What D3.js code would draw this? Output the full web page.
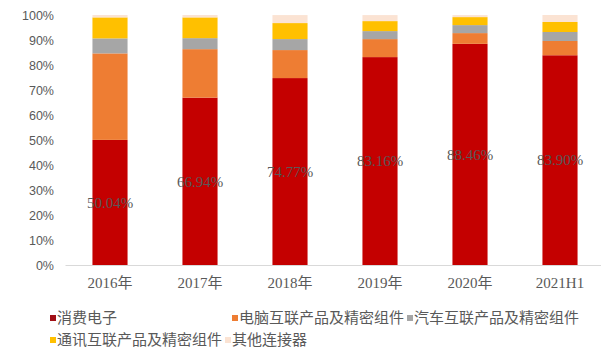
<!DOCTYPE html>
<html>
<head>
<meta charset="utf-8">
<script src="https://cdn.jsdelivr.net/npm/d3@7"></script>
<style>
  html, body { margin: 0; padding: 0; background: #fff; }
  svg { display: block; }
</style>
</head>
<body>
<svg id="chart" width="601" height="354"></svg>
<script>
// Revenue share by downstream application (%)
const categories = ["2016年", "2017年", "2018年", "2019年", "2020年", "2021H1"];
const consumer   = [50.04, 66.94, 74.77, 83.16, 88.46, 83.90];
const computer   = [34.6, 19.4, 11.2, 7.2, 4.3, 5.7];
const automotive = [6.0, 4.4, 4.4, 3.2, 3.2, 3.6];
const telecom    = [8.4, 8.3, 6.4, 4.0, 3.2, 4.0];
const other      = [0.96, 0.96, 3.2, 2.4, 0.8, 2.8];

const seriesNames = ["消费电子", "电脑互联产品及精密组件", "汽车互联产品及精密组件", "通讯互联产品及精密组件", "其他连接器"];
const seriesValues = [consumer, computer, automotive, telecom, other];
const colors = ["#C40000", "#EE7D33", "#A6A6A6", "#FFC000", "#FBE3D3"];
const yTicks = [0, 10, 20, 30, 40, 50, 60, 70, 80, 90, 100];

const rows = categories.map((c, i) => {
  const r = { category: c };
  seriesNames.forEach((s, k) => { r[s] = seriesValues[k][i]; });
  return r;
});

const svg = d3.select("#chart");

const x = d3.scaleBand()
  .domain(categories)
  .range([65, 605])
  .paddingInner(0.61)
  .paddingOuter(0.305);

const y = d3.scaleLinear().domain([0, 100]).range([265, 15]);

const stacked = d3.stack().keys(seriesNames)(rows);

// stacked bars
svg.append("g")
  .selectAll("g")
  .data(stacked)
  .join("g")
    .attr("fill", (d, i) => colors[i])
  .selectAll("rect")
  .data(d => d)
  .join("rect")
    .attr("x", d => x(d.data.category))
    .attr("width", x.bandwidth())
    .attr("y", d => y(d[1]))
    .attr("height", d => y(d[0]) - y(d[1]));

// y axis labels
const yAxis = svg.append("g")
  .attr("transform", "translate(54,0)")
  .call(d3.axisLeft(y).tickValues(yTicks).tickSize(0).tickPadding(0).tickFormat(d => d + "%"));
yAxis.select(".domain").remove();
yAxis.selectAll("text")
  .attr("fill", "#595959")
  .style("font-family", "'Liberation Sans', Arial, sans-serif")
  .style("font-size", "12.5px");

// category axis
const xAxis = svg.append("g")
  .attr("transform", "translate(0,265)")
  .call(d3.axisBottom(x).tickSize(0).tickPadding(12));
xAxis.select(".domain").attr("stroke", "#D9D9D9").attr("stroke-width", 1);
xAxis.selectAll("text")
  .attr("fill", "#595959")
  .style("font-family", "'Liberation Serif', 'Noto Sans CJK SC', serif")
  .style("font-size", "15px");

// value labels for consumer electronics share
svg.append("g")
  .selectAll("text")
  .data(stacked[0])
  .join("text")
    .attr("x", d => x(d.data.category) + x.bandwidth() / 2)
    .attr("y", d => (y(d[0]) + y(d[1])) / 2)
    .attr("dy", "0.35em")
    .attr("text-anchor", "middle")
    .attr("fill", "#595959")
    .style("font-family", "'Liberation Serif', serif")
    .style("font-size", "15px")
    .text(d => d.data[seriesNames[0]].toFixed(2) + "%");

// legend (flow layout over two rows)
const legendFont = "'Noto Sans CJK SC', sans-serif";
const legendRows = [[0, 1, 2], [3, 4]];
const legendY = [318, 340];
const legendStart = [50, 232];
const legend = svg.append("g");
legendRows.forEach((row, r) => {
  let cx = 50;
  row.forEach((k, j) => {
    if (r === 0 && j === 1) cx = legendStart[1];
    legend.append("rect")
      .attr("x", cx)
      .attr("y", legendY[r] - 3)
      .attr("width", 6)
      .attr("height", 6)
      .attr("fill", k === 0 ? "#A10F16" : colors[k]);
    const t = legend.append("text")
      .attr("x", cx + 7)
      .attr("y", legendY[r])
      .attr("dy", "0.35em")
      .attr("fill", "#595959")
      .style("font-family", legendFont)
      .style("font-size", "15px")
      .text(seriesNames[k]);
    cx = cx + 7 + t.node().getComputedTextLength() + 3;
  });
});
</script>
</body>
</html>
